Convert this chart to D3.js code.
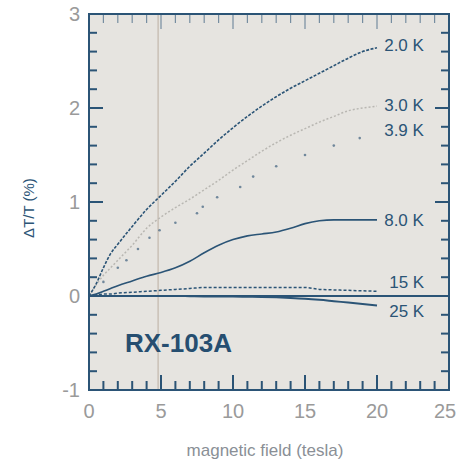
<!DOCTYPE html>
<html><head><meta charset="utf-8">
<script src="https://cdn.jsdelivr.net/npm/d3@7"></script>
<style>body{margin:0;background:#fff}svg{display:block}</style>
</head><body><svg id="c" width="458" height="465"></svg>
<script>
// ---- data ----
const field = [0,0.5,1,1.5,2,3,4,5,6,7,8,9,10,11,12,13,14,15,16,17,18,19,20];
const t20 = [0,0.13,0.3,0.45,0.55,0.74,0.92,1.07,1.22,1.38,1.52,1.66,1.79,1.91,2.02,2.12,2.21,2.29,2.37,2.45,2.53,2.6,2.64];
const t30 = [0,0.12,0.22,0.3,0.38,0.54,0.72,0.84,0.94,1.03,1.13,1.23,1.34,1.44,1.54,1.63,1.71,1.78,1.85,1.91,1.97,2.0,2.02];
const t80 = [0,0.02,0.05,0.08,0.11,0.16,0.21,0.25,0.3,0.37,0.46,0.54,0.6,0.64,0.66,0.68,0.72,0.77,0.8,0.81,0.81,0.81,0.81];
const t150 = [0,0.01,0.02,0.02,0.03,0.04,0.05,0.06,0.07,0.08,0.09,0.09,0.09,0.09,0.09,0.09,0.09,0.09,0.07,0.065,0.06,0.055,0.05];
const t250 = [0,0,0,0,0,0,0,0,0,-0.002,-0.004,-0.005,-0.006,-0.008,-0.01,-0.014,-0.02,-0.028,-0.04,-0.055,-0.07,-0.085,-0.1];
const field39 = [1,2,2.6,3.4,4.2,4.9,6,7.5,7.9,8.9,10.5,11.4,13,15,17,18.8];
const t39 = [0.15,0.3,0.38,0.5,0.62,0.7,0.78,0.88,0.95,1.05,1.16,1.27,1.38,1.5,1.6,1.68];
const seriesLabels = ["2.0 K","3.0 K","3.9 K","8.0 K","15 K","25 K"];
const labelValues = [2.67, 2.03, 1.77, 0.81, 0.15, -0.16];
const xTicks = [0,5,10,15,20,25];
const yTicks = [-1,0,1,2,3];
const markerField = 4.8;
const sampleName = "RX-103A";

// ---- layout ----
const W = 458;
const svg = d3.select("#c");
const x = d3.scaleLinear().domain([0,25]).range([89,449]);
const y = d3.scaleLinear().domain([-1,3]).range([390,14]);
const blue = "#2b5476";

svg.append("rect").attr("x",x(0)).attr("y",y(3)).attr("width",x(25)-x(0)).attr("height",y(-1)-y(3)).attr("fill","#e6e4e0");

// marker line
svg.append("line").attr("x1",x(markerField)).attr("x2",x(markerField)).attr("y1",y(3)).attr("y2",y(-1))
  .attr("stroke","#c9c0b6").attr("stroke-width",1.5);

// ticks (inward) on all sides
const g = svg.append("g").attr("stroke",blue).attr("stroke-width",2);
d3.range(0,25.01,1).forEach(v=>{
  const L = (v%5===0)?15:9;
  g.append("line").attr("x1",x(v)).attr("x2",x(v)).attr("y1",y(-1)).attr("y2",y(-1)-L);
  g.append("line").attr("x1",x(v)).attr("x2",x(v)).attr("y1",y(3)).attr("y2",y(3)+L).attr("stroke-width",1.2).attr("stroke-opacity",0.6);
});
d3.range(-1,3.001,0.2).forEach(v=>{
  const maj = Math.abs(v-Math.round(v))<1e-6;
  const L = maj?14:8;
  g.append("line").attr("x1",x(0)).attr("x2",x(0)+L).attr("y1",y(v)).attr("y2",y(v));
  g.append("line").attr("x1",x(25)).attr("x2",x(25)-L).attr("y1",y(v)).attr("y2",y(v));
});

// zero line
svg.append("line").attr("x1",x(0)).attr("x2",x(25)).attr("y1",y(0)).attr("y2",y(0)).attr("stroke",blue).attr("stroke-width",2);

const line = d3.line().x(d=>x(d[0])).y(d=>y(d[1])).curve(d3.curveMonotoneX);
const zip = (a,b)=>a.map((v,i)=>[v,b[i]]);

svg.append("path").attr("d",line(zip(field,t30))).attr("fill","none").attr("stroke","#b9b7b2").attr("stroke-width",1.5).attr("stroke-dasharray","2,2");
svg.append("path").attr("d",line(zip(field,t20))).attr("fill","none").attr("stroke",blue).attr("stroke-width",1.6).attr("stroke-dasharray","3,1.5");
svg.append("path").attr("d",line(zip(field,t80))).attr("fill","none").attr("stroke",blue).attr("stroke-width",1.6);
svg.append("path").attr("d",line(zip(field,t150))).attr("fill","none").attr("stroke",blue).attr("stroke-width",1.5).attr("stroke-dasharray","3,2");
svg.append("path").attr("d",line(zip(field,t250))).attr("fill","none").attr("stroke",blue).attr("stroke-width",2);
svg.selectAll("circle.p39").data(zip(field39,t39)).enter().append("circle")
  .attr("cx",d=>x(d[0])).attr("cy",d=>y(d[1])).attr("r",1.3).attr("fill","#3d5f7d").attr("fill-opacity",0.7);

// frame
svg.append("rect").attr("x",x(0)).attr("y",y(3)).attr("width",x(25)-x(0)).attr("height",y(-1)-y(3))
  .attr("fill","none").attr("stroke",blue).attr("stroke-width",2);

// tick labels (last one kept inside the page edge)
svg.selectAll("text.xt").data(xTicks).enter().append("text").attr("x",d=>Math.min(x(d), W-13)).attr("y",418)
  .attr("text-anchor","middle").attr("font-family","Liberation Sans").attr("font-size",20).attr("fill","#9a9a9a").text(d=>d);
svg.selectAll("text.yt").data(yTicks).enter().append("text").attr("x",80).attr("y",d=>y(d)+7)
  .attr("text-anchor","end").attr("font-family","Liberation Sans").attr("font-size",20).attr("fill","#9a9a9a").text(d=>d);

// curve labels
svg.selectAll("text.sl").data(seriesLabels).enter().append("text")
  .attr("x",(d,i)=> i>=4 ? x(20.5)+5 : x(20.5))
  .attr("y",(d,i)=>y(labelValues[i])+6)
  .attr("font-family","Liberation Sans").attr("font-size",17).attr("fill",blue).text(d=>d);

// title
svg.append("text").attr("x",x(2.5)).attr("y",352).attr("font-family","Liberation Sans").attr("font-weight","bold")
  .attr("font-size",26).attr("fill","#264e70").text(sampleName);

// axis titles
svg.append("text").attr("x",265).attr("y",456).attr("text-anchor","middle").attr("font-family","Liberation Sans")
  .attr("font-size",17).attr("fill","#8a8f96").text("magnetic field (tesla)");
svg.append("text").attr("transform","translate(34,208) rotate(-90)").attr("text-anchor","middle").attr("font-family","Liberation Sans")
  .attr("font-size",15).attr("fill",blue).text("ΔT/T (%)");
</script></body></html>
